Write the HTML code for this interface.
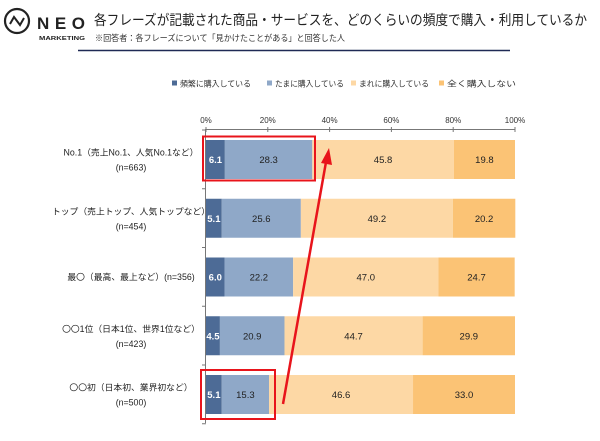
<!DOCTYPE html>
<html><head><meta charset="utf-8"><style>
body{margin:0;background:#fff;width:600px;height:436px;overflow:hidden;font-family:"Liberation Sans","Noto Sans CJK JP",sans-serif}
svg text{font-family:"Liberation Sans","Noto Sans CJK JP",sans-serif}
</style></head><body>
<svg width="600" height="436">
<g>
<circle cx="17" cy="21" r="12" fill="none" stroke="#222" stroke-width="2.2"/>
<path d="M10 24 L14 17 L20 25 L24 18" fill="none" stroke="#222" stroke-width="2"/>
<text x="37" y="29" font-size="17" font-weight="bold" fill="#222" textLength="48" lengthAdjust="spacing">NEO</text>
<text x="39" y="40" font-size="5" font-weight="bold" fill="#222" textLength="46" lengthAdjust="spacingAndGlyphs">MARKETING</text>
</g>
<text x="94" y="25" font-size="14" fill="#222" textLength="493" lengthAdjust="spacingAndGlyphs">各フレーズが記載された商品・サービスを、どのくらいの頻度で購入・利用しているか</text>
<text x="95" y="41" font-size="8.5" fill="#333" textLength="250" lengthAdjust="spacingAndGlyphs">※回答者：各フレーズについて「見かけたことがある」と回答した人</text>
<line x1="78" y1="50.5" x2="510" y2="50.5" stroke="#1f2a55" stroke-width="1.5"/>
<g id="legend"></g>
<g id="axis"></g>
<g id="bars"></g>
<g>
<rect x="203" y="136.5" width="112" height="44" fill="none" stroke="#e8141b" stroke-width="2"/>
<rect x="201" y="370" width="74" height="49" fill="none" stroke="#e8141b" stroke-width="2"/>
<line x1="283" y1="404" x2="326" y2="162" stroke="#e8141b" stroke-width="2.5"/>
<polygon points="329,148 321,163 332,165" fill="#e8141b"/>
</g>
</svg>
<script>
const categories=["No.1（売上No.1、人気No.1など）|(n=663)","トップ（売上トップ、人気トップなど）|(n=454)","最〇（最高、最上など）(n=356)","〇〇1位（日本1位、世界1位など）|(n=423)","〇〇初（日本初、業界初など）|(n=500)"];
const seriesNames=["頻繁に購入している","たまに購入している","まれに購入している","全く購入しない"];
const frequent=[6.1,5.1,6.0,4.5,5.1];
const sometimes=[28.3,25.6,22.2,20.9,15.3];
const rarely=[45.8,49.2,47.0,44.7,46.6];
const never=[19.8,20.2,24.7,29.9,33.0];
const ticks=[0,20,40,60,80,100];
const colors=["#4d6b96","#8fa8c8","#fdd8a5","#fbc375"];
const textColors=["#fff","#222","#222","#222"];
const NS="http://www.w3.org/2000/svg";
const x0=206,x1=515,top0=140,pitch=58.75,bh=39;
const xs=v=>x0+(x1-x0)*v/100;
function mk(t,a,p){const e=document.createElementNS(NS,t);for(const k in a)e.setAttribute(k,a[k]);p.appendChild(e);return e;}
const lg=document.getElementById('legend');
const lx=[172,267,351,439];
const lw=[71,69,70,69];
seriesNames.forEach((n,i)=>{
 const r=mk('rect',{x:lx[i],y:80.5,width:5,height:5,fill:colors[i]},lg);
 
 
 const t=mk('text',{x:lx[i]+8,y:86.5,'font-size':'8',fill:'#333',textLength:lw[i],lengthAdjust:'spacingAndGlyphs'},lg);t.textContent=n;
 
 
});
const ax=document.getElementById('axis');


mk('line',{x1:x0,y1:129.5,x2:x1,y2:129.5,stroke:'#777','stroke-width':1},ax);
mk('line',{x1:x0-0.5,y1:129,x2:x0-0.5,y2:423,stroke:'#777','stroke-width':1},ax);
ticks.forEach(v=>{
 mk('line',{x1:xs(v),y1:127,x2:xs(v),y2:132,stroke:'#777'},ax);
 const t=mk('text',{x:xs(v),y:123,'font-size':'8','text-anchor':'middle',fill:'#333'},ax);t.textContent=v+'%';
 
 
});
for(let i=0;i<=categories.length;i++){mk('line',{x1:x0-4,y1:top0-10+i*pitch,x2:x0,y2:top0-10+i*pitch,stroke:'#777'},ax);}
const bg=document.getElementById('bars');
const series=[frequent,sometimes,rarely,never];
categories.forEach((c,i)=>{
 const y=top0+i*pitch;
 const parts=c.split('|');
 parts.forEach((p,j)=>{
  const t=mk('text',{x:131,y:y+bh/2+(parts.length>1?(j==0?-4:11):3),'font-size':'8.8','text-anchor':'middle',fill:'#222'},bg);
  t.textContent=p;
  
  
 });
 let acc=0;
 series.forEach((s,k)=>{
  const v=s[i];
  const r=mk('rect',{x:xs(acc),y:y,width:xs(acc+v)-xs(acc),height:bh,fill:colors[k]},bg);
  
  
  const t=mk('text',{x:(xs(acc)+xs(acc+v))/2,y:y+bh/2+3.5,'font-size':'9.5','text-anchor':'middle',fill:textColors[k],'font-weight':k==0?'bold':'normal'},bg);
  t.textContent=v.toFixed(1);
  
  
  acc+=v;
 });
});
</script>
</body></html>
